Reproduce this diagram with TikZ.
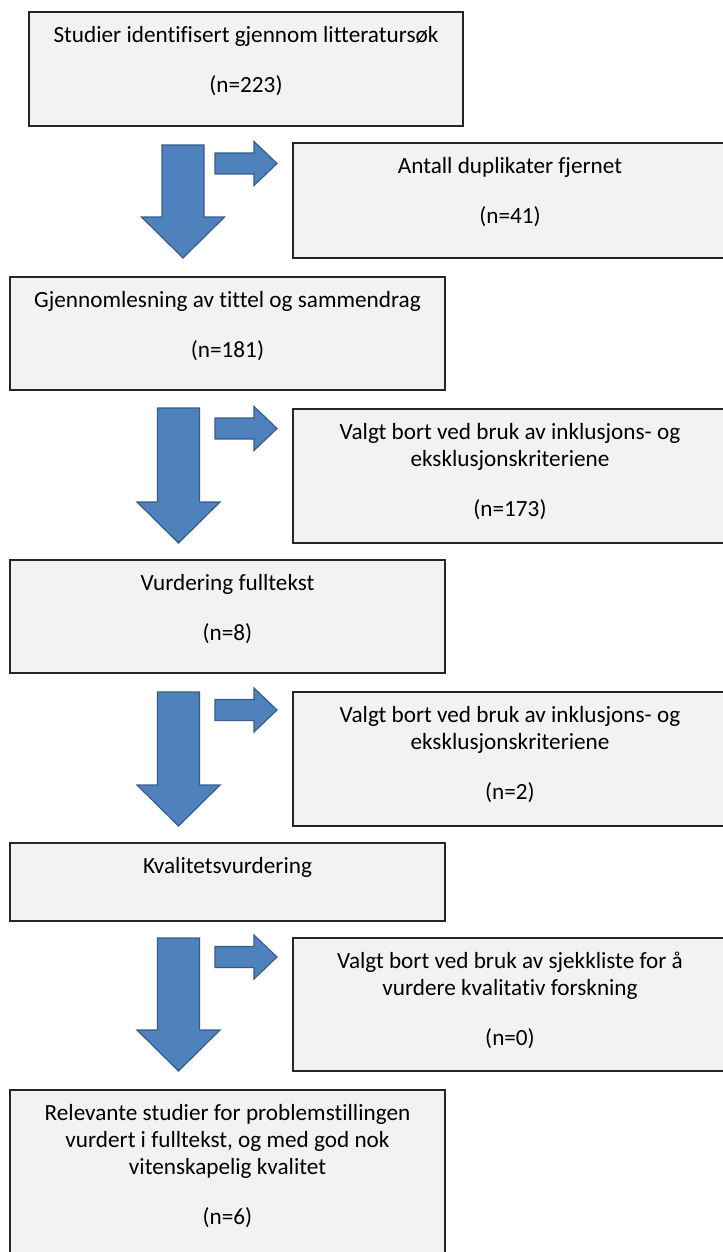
\documentclass[tikz,border=0pt]{standalone}
\usepackage{fontspec}
\setmainfont{Carlito}[Ligatures=NoCommon]
\usetikzlibrary{positioning,fit}
\definecolor{arrowblue}{HTML}{4F81BD}
\definecolor{arrowline}{HTML}{385D8A}
\definecolor{boxgray}{HTML}{F2F2F2}

\begin{document}
\begin{tikzpicture}[x=0.75pt,y=-0.75pt,
    box/.style={draw=black!85,fill=boxgray,line width=1pt,inner sep=0pt},
    txt/.style={align=center,inner sep=0pt,font=\fontsize{17.4}{20}\selectfont},
    blockarrow/.style={fill=arrowblue,draw=arrowline,line width=0.9pt,line join=miter}]
  \useasboundingbox (0,0) rectangle (722,1252);

  % boxes
  \node[box,fit={(29,12) (463,126)}] (studier) {};
  \node[box,fit={(293,143) (727,258)}] (duplikat) {};
  \node[box,fit={(10,277) (445,390)}] (gjennom) {};
  \node[box,fit={(293,409) (727,543)}] (bort1) {};
  \node[box,fit={(10,560) (445,673)}] (fulltekst) {};
  \node[box,fit={(293,692) (727,826)}] (bort2) {};
  \node[box,fit={(10,843) (445,921)}] (kvalitet) {};
  \node[box,fit={(293,938) (727,1071)}] (bort3) {};
  \node[box,fit={(10,1090) (445,1258)}] (relevant) {};

  % texts
  \node[txt,below=9.5pt of studier.north] (t1) {\strut Studier identifisert gjennom litteratursøk\\[17.5pt](n=223)};
  \node[txt,below=9.5pt of duplikat.north] (t2) {\strut Antall duplikater fjernet\\[17.5pt](n=41)};
  \node[txt,below=9.5pt of gjennom.north] (t3) {\strut Gjennomlesning av tittel og sammendrag\\[17.5pt](n=181)};
  \node[txt,below=9.5pt of bort1.north] (t4) {\strut Valgt bort ved bruk av inklusjons- og\\eksklusjonskriteriene\\[17.5pt](n=173)};
  \node[txt,below=9.5pt of fulltekst.north] (t5) {\strut Vurdering fulltekst\\[17.5pt](n=8)};
  \node[txt,below=9.5pt of bort2.north] (t6) {\strut Valgt bort ved bruk av inklusjons- og\\eksklusjonskriteriene\\[17.5pt](n=2)};
  \node[txt,below=9.5pt of kvalitet.north] (t7) {\strut Kvalitetsvurdering};
  \node[txt,below=9.5pt of bort3.north] (t8) {\strut Valgt bort ved bruk av sjekkliste for å\\vurdere kvalitativ forskning\\[17.5pt](n=0)};
  \node[txt,below=9.5pt of relevant.north] (t9) {\strut Relevante studier for problemstillingen\\vurdert i fulltekst, og med god nok\\vitenskapelig kvalitet\\[17.5pt](n=6)};

  % block arrows down
  \foreach \cx/\top/\bot in {183/145/258, 178.5/408/543, 178.5/692/826, 178.5/938/1071}
    \draw[blockarrow] (\cx-21,\top) -- (\cx+21,\top) -- (\cx+21,\bot-41) -- (\cx+41.5,\bot-41)
      -- (\cx,\bot) -- (\cx-41.5,\bot-41) -- (\cx-21,\bot-41) -- cycle;

  % block arrows right
  \foreach \cy in {163.5, 428.5, 710, 957}
    \draw[blockarrow] (215,\cy-10.5) -- (254,\cy-10.5) -- (254,\cy-22) -- (277,\cy)
      -- (254,\cy+22) -- (254,\cy+10.5) -- (215,\cy+10.5) -- cycle;
\end{tikzpicture}
\end{document}
